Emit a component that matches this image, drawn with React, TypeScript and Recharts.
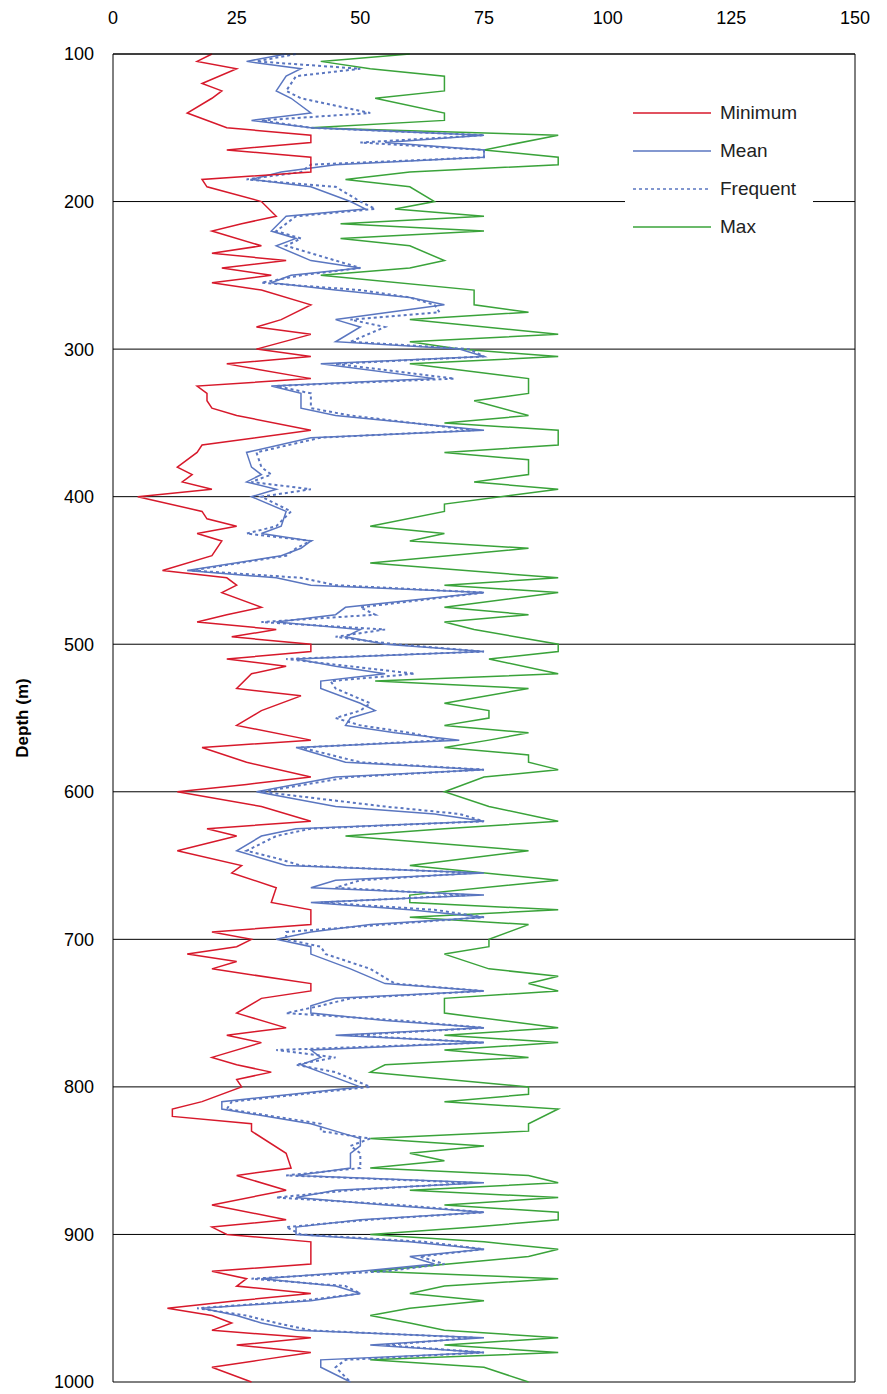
import React from "react";
import { LineChart, Line, XAxis, YAxis, CartesianGrid, ReferenceLine } from "recharts";

const xTicks = [0, 25, 50, 75, 100, 125, 150];
const yTicks = [100, 200, 300, 400, 500, 600, 700, 800, 900, 1000];

const minimum: [number, number][] = [
[100,20],[105,17],[110,25],[120,18],[125,22],[130,20],[140,15],[150,23],[155,40],[160,40],[165,23],[170,40],[180,40],[185,18],[190,19],[200,30],[210,33],[215,26],[220,20],[230,30],[235,20],[240,35],[245,22],[250,32],[255,20],[260,30],[270,40],[280,34],[285,29],[290,40],[300,29],[305,40],[310,23],[320,40],[325,17],[330,19],[335,19],[340,20],[345,25],[355,40],[365,18],[370,17],[380,13],[385,16],[390,14],[395,20],[400,5],[410,18],[415,19],[420,25],[425,17],[430,22],[440,20],[450,10],[455,23],[460,25],[465,22],[475,30],[480,23],[485,17],[490,33],[495,24],[500,40],[505,40],[510,23],[515,35],[520,28],[530,25],[535,38],[545,30],[555,25],[565,40],[570,18],[580,27],[590,40],[595,27],[600,13],[610,30],[620,40],[625,19],[630,25],[640,13],[650,26],[655,24],[665,33],[675,32],[680,40],[690,40],[695,20],[700,28],[705,25],[710,15],[715,25],[720,20],[730,40],[735,40],[740,30],[750,25],[760,35],[765,23],[770,30],[780,20],[785,25],[790,32],[795,25],[800,26],[810,18],[815,12],[820,12],[825,28],[830,28],[845,35],[855,36],[860,25],[870,35],[880,20],[890,35],[895,20],[900,23],[905,40],[920,40],[925,20],[930,27],[935,25],[940,40],[945,25],[950,11],[955,20],[960,24],[965,20],[970,40],[975,25],[980,40],[985,30],[990,20],[1000,28]];

const maximum: [number, number][] = [
[100,60],[105,42],[110,52],[115,67],[125,67],[130,53],[140,67],[145,67],[150,40],[155,90],[165,75],[170,90],[175,90],[180,60],[185,47],[190,60],[200,65],[205,57],[210,75],[215,46],[220,75],[225,46],[230,60],[240,67],[245,60],[250,42],[260,73],[270,73],[275,84],[280,60],[290,90],[295,60],[300,70],[305,90],[310,60],[320,84],[330,84],[335,73],[345,84],[350,67],[355,90],[365,90],[370,67],[375,84],[385,84],[390,73],[395,90],[405,67],[410,67],[420,52],[425,67],[430,60],[435,84],[445,52],[455,90],[460,67],[465,90],[475,67],[480,84],[485,67],[490,73],[500,90],[505,90],[510,76],[520,90],[525,53],[530,84],[540,67],[545,76],[550,76],[555,67],[560,84],[565,76],[570,67],[575,84],[580,84],[585,90],[590,75],[600,67],[610,76],[620,90],[625,67],[630,47],[640,84],[650,60],[660,90],[670,60],[675,60],[680,90],[685,60],[690,84],[700,76],[705,76],[710,67],[720,76],[725,90],[730,84],[735,90],[740,67],[750,67],[760,90],[765,67],[770,90],[775,67],[780,84],[785,55],[790,52],[800,84],[805,84],[810,67],[815,90],[825,84],[830,84],[835,52],[840,75],[845,60],[850,67],[855,52],[860,84],[865,90],[870,60],[875,90],[880,67],[885,90],[890,90],[895,73],[900,52],[905,75],[910,90],[915,84],[925,52],[930,90],[935,67],[940,60],[945,75],[950,60],[955,52],[960,60],[965,67],[970,90],[975,67],[980,90],[985,52],[990,75],[1000,84]];

const mean: [number, number][] = [
[100,35],[105,27],[110,38],[115,35],[125,33],[130,36],[140,40],[145,28],[150,40],[155,75],[160,55],[165,75],[170,75],[175,45],[180,34],[185,28],[190,40],[200,48],[205,51],[210,35],[220,32],[225,37],[230,33],[240,40],[245,50],[250,36],[255,32],[260,45],[265,60],[270,67],[280,45],[285,50],[295,45],[300,70],[305,75],[310,42],[320,65],[325,32],[330,38],[340,38],[345,45],[355,75],[360,40],[370,27],[380,28],[385,30],[390,27],[395,33],[400,28],[410,35],[420,34],[425,30],[430,40],[435,38],[440,34],[450,15],[455,33],[460,40],[465,75],[475,47],[480,45],[485,33],[490,50],[495,47],[500,55],[505,75],[510,37],[515,45],[520,55],[525,42],[530,42],[540,50],[545,53],[550,48],[555,47],[560,57],[565,70],[570,37],[580,47],[585,75],[590,45],[600,29],[610,45],[615,65],[620,75],[625,37],[630,30],[640,25],[645,30],[650,35],[655,75],[660,45],[665,40],[670,75],[675,40],[680,60],[685,75],[690,52],[695,40],[700,33],[705,40],[710,40],[720,48],[730,55],[735,75],[740,45],[745,40],[750,40],[755,55],[760,75],[765,45],[770,75],[775,40],[780,42],[785,38],[790,42],[800,50],[810,22],[815,22],[825,40],[830,45],[835,50],[840,50],[845,48],[855,48],[860,37],[865,75],[870,45],[875,37],[880,55],[885,75],[890,50],[895,37],[900,37],[905,60],[910,75],[915,60],[920,65],[925,50],[930,30],[935,45],[940,50],[945,40],[950,18],[955,25],[960,30],[965,37],[970,75],[975,52],[980,75],[985,42],[990,42],[1000,48]];

const frequent: [number, number][] = [
[100,37],[105,29],[110,50],[115,37],[125,35],[130,38],[140,52],[145,30],[150,40],[155,75],[160,50],[165,75],[170,75],[175,40],[180,38],[185,27],[190,45],[200,50],[205,53],[210,37],[220,33],[225,38],[230,35],[240,45],[245,50],[250,38],[255,30],[260,50],[265,60],[270,65],[275,66],[280,48],[285,55],[295,48],[300,72],[305,75],[310,45],[320,69],[325,33],[330,40],[340,40],[345,48],[355,73],[360,42],[370,29],[380,30],[385,32],[390,28],[395,40],[400,30],[410,36],[420,33],[425,27],[430,40],[435,37],[440,35],[450,16],[455,38],[460,45],[465,75],[475,50],[480,53],[485,30],[490,55],[495,45],[500,57],[505,75],[510,35],[515,48],[520,61],[525,44],[530,45],[540,52],[545,50],[550,45],[555,50],[560,60],[565,67],[570,38],[580,50],[585,75],[590,48],[600,30],[610,55],[615,70],[620,75],[625,40],[630,33],[640,27],[645,33],[650,38],[655,73],[660,50],[665,45],[670,72],[675,42],[680,65],[685,75],[690,55],[695,35],[700,35],[705,42],[710,43],[720,52],[730,57],[735,75],[740,48],[745,42],[750,35],[755,58],[760,75],[765,48],[770,75],[775,33],[780,45],[785,37],[790,45],[800,52],[810,24],[815,23],[825,42],[830,42],[835,52],[840,48],[845,50],[855,50],[860,35],[865,73],[870,48],[875,33],[880,58],[885,75],[890,52],[895,35],[900,38],[905,63],[910,75],[915,62],[920,67],[925,55],[930,28],[935,47],[940,50],[945,38],[950,17],[955,27],[960,33],[965,40],[970,73],[975,55],[980,75],[985,47],[990,45],[1000,48]];

const toRows = (s: [number, number][]) => s.map(([depth, v]) => ({ depth, v }));

const legendItems = [
  { name: "Minimum", color: "#d7192b", dash: undefined },
  { name: "Mean", color: "#5a76c0", dash: undefined },
  { name: "Frequent", color: "#5a76c0", dash: "3 3" },
  { name: "Max", color: "#3aa33a", dash: undefined },
];

const font = "'Liberation Sans', Arial, sans-serif";

export default function App() {
  return (
    <div style={{ position: "relative", width: 871, height: 1386, fontFamily: font }}>
      <LineChart width={871} height={1386} layout="vertical" margin={{ top: 6, right: 24, bottom: 12, left: 45 }}>
        <CartesianGrid vertical={false} stroke="#000" strokeWidth={1} />
        <XAxis type="number" orientation="top" domain={[0, 150]} ticks={xTicks} height={40}
          axisLine={{ stroke: "#000" }} tickLine={false} tickMargin={24}
          tick={{ fill: "#000", fontSize: 18, fontFamily: font }} />
        <YAxis type="number" dataKey="depth" domain={[100, 1000]} ticks={yTicks} width={60}
          axisLine={{ stroke: "#000" }} tickLine={false} tickMargin={13}
          tick={{ fill: "#000", fontSize: 18, fontFamily: font }}
          label={{ value: "Depth (m)", angle: -90, position: "insideLeft", offset: -31, style: { fontSize: 17, fontWeight: "bold", fill: "#000", fontFamily: font, textAnchor: "middle" } }} />
        <ReferenceLine x={150} stroke="#000" />
        <Line data={toRows(maximum)} dataKey="v" stroke="#3aa33a" strokeWidth={1.5} dot={false} isAnimationActive={false} />
        <Line data={toRows(frequent)} dataKey="v" stroke="#5a76c0" strokeWidth={2} strokeDasharray="3 3" dot={false} isAnimationActive={false} />
        <Line data={toRows(mean)} dataKey="v" stroke="#5a76c0" strokeWidth={1.5} dot={false} isAnimationActive={false} />
        <Line data={toRows(minimum)} dataKey="v" stroke="#d7192b" strokeWidth={1.5} dot={false} isAnimationActive={false} />
      </LineChart>
      <div style={{ position: "absolute", left: 617, top: 82, width: 188, height: 158, background: "#fff" }}>
        {legendItems.map((it, i) => (
          <div key={it.name} style={{ position: "absolute", left: 8, top: 12 + i * 38, display: "flex", alignItems: "center" }}>
            <svg width={78} height={4}><line x1={0} y1={2} x2={78} y2={2} stroke={it.color} strokeWidth={1.5} strokeDasharray={it.dash} /></svg>
            <span style={{ marginLeft: 9, fontSize: 19, color: "#222" }}>{it.name}</span>
          </div>
        ))}
      </div>
    </div>
  );
}
